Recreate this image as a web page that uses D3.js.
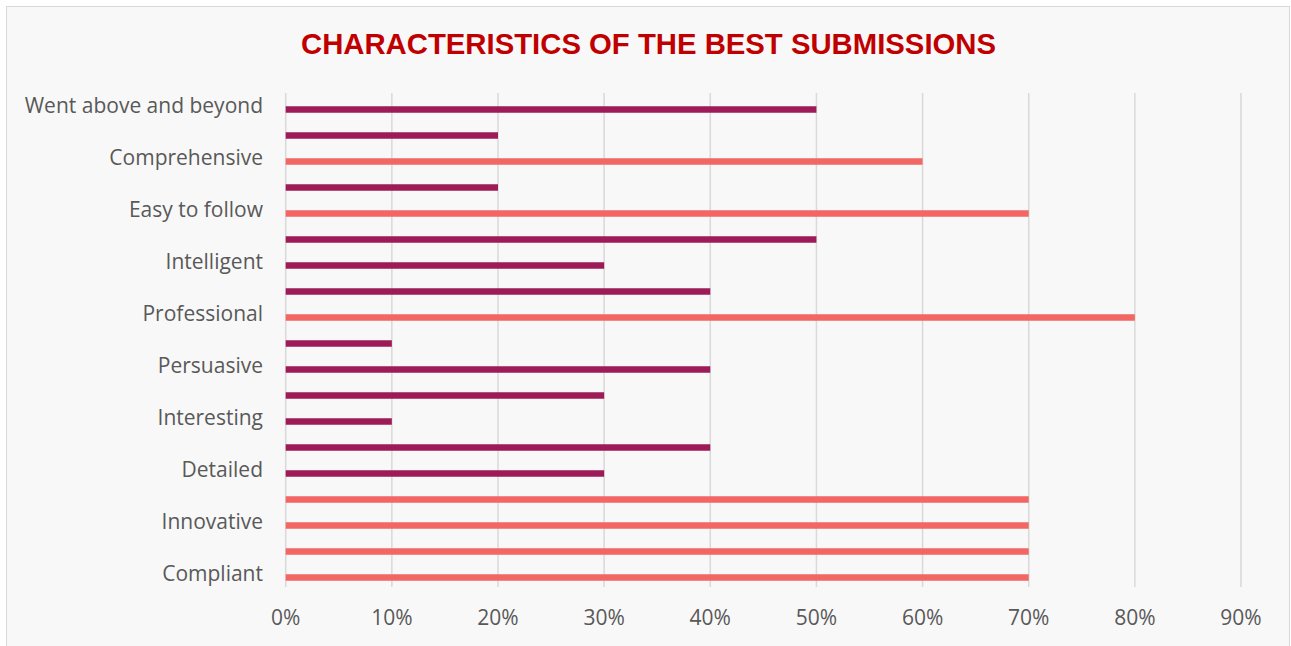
<!DOCTYPE html>
<html><head><meta charset="utf-8">
<script src="https://cdn.jsdelivr.net/npm/d3@7"></script>
<style>html,body{margin:0;padding:0;background:#fff;}svg{display:block;}</style>
</head><body>
<svg id="c" width="1291" height="646"></svg>
<script>
const title = "CHARACTERISTICS OF THE BEST SUBMISSIONS";
// rows from top to bottom; unlabeled rows are hidden by the axis label interval
const categories = ["Went above and beyond","","Comprehensive","","Easy to follow","","Intelligent","","Professional","","Persuasive","","Interesting","","Detailed","","Innovative","","Compliant"];
const values = [0.5,0.2,0.6,0.2,0.7,0.5,0.3,0.4,0.8,0.1,0.4,0.3,0.1,0.4,0.3,0.7,0.7,0.7,0.7];
const ticks = [0,0.1,0.2,0.3,0.4,0.5,0.6,0.7,0.8,0.9];

const svg = d3.select("#c");
svg.append("rect").attr("x",6.5).attr("y",6.5).attr("width",1283).attr("height",660)
  .attr("fill","#f8f8f8").attr("stroke","#d9d9d9").attr("stroke-width",1);

const x = d3.scaleLinear().domain([0,0.9]).range([285.7,1241]);
const y = d3.scaleBand().domain(d3.range(categories.length)).range([96.5,590.5]);
const plotTop = 93, plotBottom = 587;

svg.append("g").selectAll("line").data(ticks).join("line")
  .attr("x1",d=>x(d)).attr("x2",d=>x(d)).attr("y1",plotTop).attr("y2",plotBottom)
  .attr("stroke","#d9d9d9").attr("stroke-width",1.5);

const barH = 6.5;
svg.append("g").selectAll("rect").data(values).join("rect")
  .attr("x",x(0)).attr("width",d=>x(d)-x(0))
  .attr("y",(d,i)=>y(i)+y.bandwidth()/2-barH/2).attr("height",barH)
  .attr("fill",d=>d>=0.6?"#f26663":"#9d1b56");

svg.append("g").selectAll("text").data(categories).join("text")
  .attr("x",263).attr("y",(d,i)=>y(i)+y.bandwidth()/2-4)
  .attr("dy","0.35em").attr("text-anchor","end")
  .attr("font-family","Open Sans").attr("font-size",21).attr("fill","#595959")
  .text(d=>d);

svg.append("g").selectAll("text").data(ticks).join("text")
  .attr("x",d=>x(d)).attr("y",618).attr("dy","0.35em").attr("text-anchor","middle")
  .attr("font-family","Open Sans").attr("font-size",21).attr("fill","#595959")
  .text(d=>d3.format(".0%")(d));

svg.append("text").attr("x",648.5).attr("y",54).attr("text-anchor","middle")
  .attr("font-family","Liberation Sans, Arial, sans-serif").attr("font-weight","bold")
  .attr("font-size",29.3).attr("fill","#c00000").text(title);
</script>
</body></html>
